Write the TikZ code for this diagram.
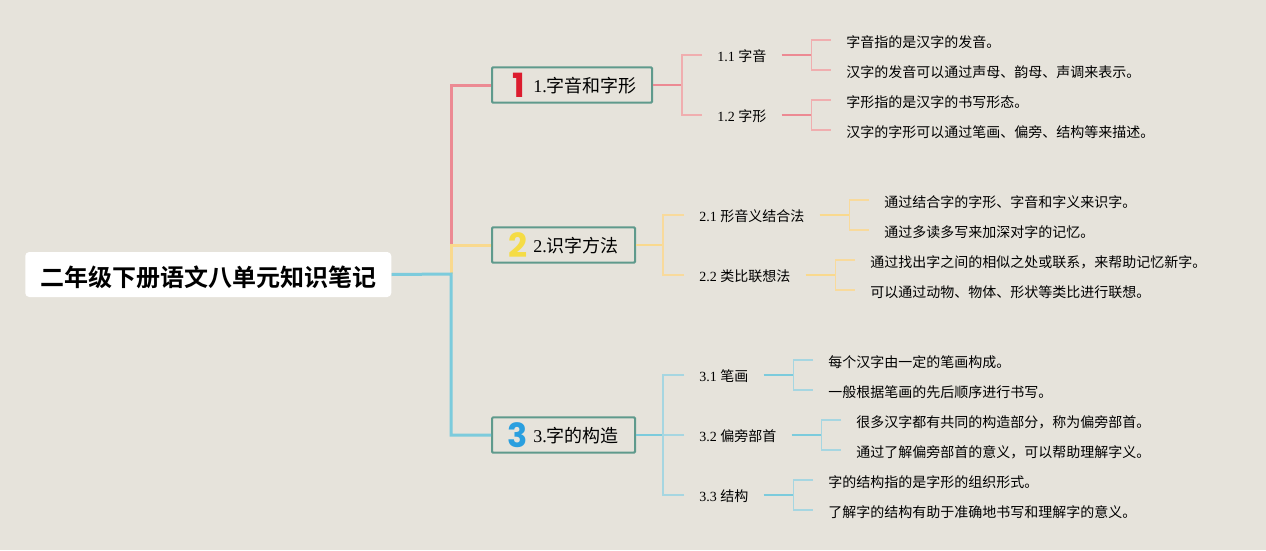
\documentclass[tikz,border=0pt]{standalone}
\usepackage{fontspec}
\setmainfont{Liberation Serif}
\newfontfamily\cjk{Noto Sans CJK SC}
\newfontfamily\cjkb{Noto Sans CJK SC Bold}
\newfontfamily\numf{Poppins Bold}
\definecolor{bgc}{HTML}{E6E3DB}
\definecolor{frm}{HTML}{5F9A8C}
\definecolor{redA}{HTML}{EC8A93}
\definecolor{redB}{HTML}{F0AEAF}
\definecolor{yelA}{HTML}{F9D98E}
\definecolor{yelB}{HTML}{F8DA9C}
\definecolor{cyaA}{HTML}{7CCBDC}
\definecolor{cyaB}{HTML}{A6D6E1}
\definecolor{numR}{HTML}{DC1C2E}
\definecolor{numY}{HTML}{F5DC45}
\definecolor{numB}{HTML}{2A9FDF}
\tikzset{
  x=0.75pt,y=-0.75pt,
  rootn/.style={fill=white,rounded corners=3pt,inner sep=0pt,anchor=west,minimum height=33.75pt,minimum width=274.5pt},
  topn/.style={draw=frm,line width=1.5pt,fill=bgc,rounded corners=0.8pt,inner sep=0pt,anchor=west,minimum height=26.5pt},
  toptxt/.style={inner sep=0pt,anchor=west,font=\fontsize{13.5}{16}\selectfont},
  midn/.style={inner xsep=11.25pt,inner ysep=0pt,anchor=west,text height=12.5pt,text depth=2.5pt,font=\fontsize{10.5}{12}\selectfont},
  leaf/.style={inner xsep=11.25pt,inner ysep=0pt,anchor=west,text height=13pt,text depth=2pt,font=\cjk\fontsize{10.5}{12}\selectfont},
  numn/.style={inner sep=0pt,font=\numf\fontsize{25}{25}\selectfont},
  trunk/.style={line width=2.25pt},
  branch/.style={line width=1.3pt},
  twig/.style={line width=1.1pt},
}
\begin{document}
\begin{tikzpicture}
\useasboundingbox[fill=bgc] (0,0) rectangle (1266,550);
% trunks
\coordinate (sp) at (451,274);
\node[topn,minimum width=120pt] (b1) at (491,85) {};
\node[topn,minimum width=107.25pt] (b2) at (491,245) {};
\node[topn,minimum width=107.25pt] (b3) at (491,435) {};
\draw[trunk,redA] (b1.west) -| (451,245);
\draw[trunk,yelA] (b2.west) -| (sp);
\node[rootn] (root) at (25,274.5) {};
\draw[trunk,cyaA] (root.east) -- (sp) |- (b3.west);
\node[inner sep=0pt,font=\cjkb\fontsize{18}{20}\selectfont] (roott) at (208.5,277) {二年级下册语文八单元知识笔记};
% top level labels
\node[numn,text=numR] (i1) at (519,85) {1};
\node[numn,text=numY] (i2) at (518,245) {2};
\node[numn,text=numB] (i3) at (518,435) {3};
\node[toptxt] (t1) at (533,86) {1.{\cjk 字音和字形}};
\node[toptxt] (t2) at (533,246) {2.{\cjk 识字方法}};
\node[toptxt] (t3) at (533,436) {3.{\cjk 字的构造}};
% section 1
\node[midn] (n11) at (702,55) {1.1 {\cjk 字音}};
\node[midn] (n12) at (702,115) {1.2 {\cjk 字形}};
\node[leaf] (l111) at (831,40) {字音指的是汉字的发音。};
\node[leaf] (l112) at (831,70) {汉字的发音可以通过声母、韵母、声调来表示。};
\node[leaf] (l121) at (831,100) {字形指的是汉字的书写形态。};
\node[leaf] (l122) at (831,130) {汉字的字形可以通过笔画、偏旁、结构等来描述。};
\draw[branch,redA] (b1.east) -- ++(30,0) coordinate (j1);
\draw[twig,redB] (n11.west) -- ++(-20,0) |- (j1);
\draw[twig,redB] (n12.west) -- ++(-20,0) |- (j1);
\draw[branch,redA] (n11.east) -- ++(30,0) coordinate (j11);
\draw[twig,redB] (l111.west) -| (j11) |- (l112.west);
\draw[branch,redA] (n12.east) -- ++(30,0) coordinate (j12);
\draw[twig,redB] (l121.west) -| (j12) |- (l122.west);
% section 2
\node[midn] (n21) at (684,215) {2.1 {\cjk 形音义结合法}};
\node[midn] (n22) at (684,275) {2.2 {\cjk 类比联想法}};
\node[leaf] (l211) at (869,200) {通过结合字的字形、字音和字义来识字。};
\node[leaf] (l212) at (869,230) {通过多读多写来加深对字的记忆。};
\node[leaf] (l221) at (855,260) {通过找出字之间的相似之处或联系，来帮助记忆新字。};
\node[leaf] (l222) at (855,290) {可以通过动物、物体、形状等类比进行联想。};
\draw[branch,yelA] (b2.east) -- ++(28,0) coordinate (j2);
\draw[twig,yelB] (n21.west) -- ++(-21,0) |- (j2);
\draw[twig,yelB] (n22.west) -- ++(-21,0) |- (j2);
\draw[branch,yelA] (n21.east) -- ++(30,0) coordinate (j21);
\draw[twig,yelB] (l211.west) -| (j21) |- (l212.west);
\draw[branch,yelA] (n22.east) -- ++(30,0) coordinate (j22);
\draw[twig,yelB] (l221.west) -| (j22) |- (l222.west);
% section 3
\node[midn] (n31) at (684,375) {3.1 {\cjk 笔画}};
\node[midn] (n32) at (684,435) {3.2 {\cjk 偏旁部首}};
\node[midn] (n33) at (684,495) {3.3 {\cjk 结构}};
\node[leaf] (l311) at (813,360) {每个汉字由一定的笔画构成。};
\node[leaf] (l312) at (813,390) {一般根据笔画的先后顺序进行书写。};
\node[leaf] (l321) at (841,420) {很多汉字都有共同的构造部分，称为偏旁部首。};
\node[leaf] (l322) at (841,450) {通过了解偏旁部首的意义，可以帮助理解字义。};
\node[leaf] (l331) at (813,480) {字的结构指的是字形的组织形式。};
\node[leaf] (l332) at (813,510) {了解字的结构有助于准确地书写和理解字的意义。};
\draw[branch,cyaA] (b3.east) -- ++(28,0) coordinate (j3);
\draw[twig,cyaB] (n31.west) -- ++(-21,0) |- (j3);
\draw[twig,cyaB] (n32.west) -- (j3);
\draw[twig,cyaB] (n33.west) -- ++(-21,0) |- (j3);
\draw[branch,cyaA] (n31.east) -- ++(30,0) coordinate (j31);
\draw[twig,cyaB] (l311.west) -| (j31) |- (l312.west);
\draw[branch,cyaA] (n32.east) -- ++(30,0) coordinate (j32);
\draw[twig,cyaB] (l321.west) -| (j32) |- (l322.west);
\draw[branch,cyaA] (n33.east) -- ++(30,0) coordinate (j33);
\draw[twig,cyaB] (l331.west) -| (j33) |- (l332.west);
\end{tikzpicture}
\end{document}
